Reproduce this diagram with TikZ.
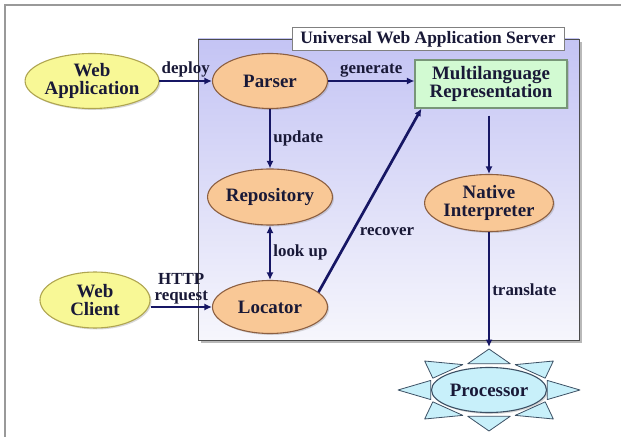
\documentclass[tikz,border=0pt]{standalone}
\usepackage{fontspec}
\setmainfont{Liberation Serif}
\newfontfamily\tnr{Liberation Serif}
\usetikzlibrary{arrows.meta, positioning, calc, shapes.geometric, shadows}
\definecolor{navy}{RGB}{22,22,100}
\definecolor{ink}{RGB}{25,25,55}
\definecolor{peach}{RGB}{249,200,150}
\definecolor{brn}{RGB}{140,95,65}
\definecolor{lemon}{RGB}{248,248,150}
\definecolor{olive}{RGB}{175,165,80}
\definecolor{mint}{RGB}{210,250,210}
\definecolor{sage}{RGB}{120,150,120}
\definecolor{sky}{RGB}{200,240,250}
\definecolor{slate}{RGB}{60,80,100}
\definecolor{srvtop}{RGB}{196,196,244}
\definecolor{srvbot}{RGB}{246,246,252}
\tikzset{
    comp/.style={ellipse, draw=brn, line width=1.1pt, fill=peach, minimum width=115bp, minimum height=55bp, inner sep=0pt,
        font=\tnr\fontsize{19}{18.5}\selectfont\bfseries, text=ink, align=center,
        drop shadow={shadow xshift=1.5bp, shadow yshift=-1.5bp, opacity=.3}},
    ext/.style={comp, draw=olive, fill=lemon},
    repr/.style={comp, rectangle, draw=sage, fill=mint, minimum width=152bp, minimum height=48bp},
    cpu/.style={comp, draw=slate, fill=sky, minimum width=115bp, minimum height=45bp},
    spike/.style={draw=slate, line width=.8pt, fill=sky, line join=round},
    trans/.style={->, >={Latex[length=7.5bp, width=7bp]}, line width=2.7bp, navy},
    lab/.style={font=\tnr\fontsize{17}{16}\selectfont\bfseries, text=ink, align=center, inner sep=2bp}
}
\begin{document}
\begin{tikzpicture}[x=1bp, y=-1bp]
    \fill[white] (0,0) rectangle (621,437);
    \useasboundingbox (0,0) rectangle (621,437);
    \draw[gray!80, line width=1.5bp] (5,437) -- (5,5) -- (621,5);

    \node (server) [rectangle, draw=gray!60!black, line width=.8pt, top color=srvtop, bottom color=srvbot,
        minimum width=381bp, minimum height=301bp, inner sep=0pt,
        drop shadow={shadow xshift=3bp, shadow yshift=-3bp, opacity=.55}] at (388.5,189.5) {};
    \node (title) [rectangle, draw=gray, fill=white, line width=.8pt, minimum width=272bp, minimum height=23bp, inner sep=0pt,
        font=\tnr\fontsize{17.5}{18}\selectfont\bfseries, text=ink] at (428,39) {Universal Web Application Server};

    \node (webapp) [ext, minimum width=117bp] at (92,81) {Web\\Application};
    \node (parser) [comp] at (270,81) {Parser};
    \node (multi) [repr] at (491,84) {Multilanguage\\Representation};
    \node (repository) [comp, minimum height=56bp] at (270,197) {Repository};
    \node (native) [comp, minimum width=117bp, minimum height=57bp] at (489,203) {Native\\Interpreter};
    \node (webclient) [ext, minimum width=110bp, minimum height=56bp] at (95,300) {Web\\Client};
    \node (locator) [comp, minimum height=53bp] at (270,307) {Locator};
    \node (processor) [cpu] at (489,390) {Processor};
    \coordinate (proctip) at (489,347);

    \foreach \a in {0,45,...,315}
        \draw[spike] ($(processor)+({91*cos(\a)},{41*sin(\a)})$) -- ($(processor)+({62*cos(\a-20)},{28*sin(\a-20)})$)
            -- ($(processor)+({62*cos(\a+20)},{28*sin(\a+20)})$) -- cycle;

    \draw[trans] (webapp.east) -- node[lab, above] {deploy} (parser.west);
    \draw[trans] (parser.east) -- node[lab, above] {generate} (multi.west |- parser.east);
    \draw[trans] (parser) -- node[lab, right] {update} (repository);
    \draw[trans, <->] (repository) -- node[lab, right] {look up} (locator);
    \draw[trans] (webclient.east |- locator.west) -- node[lab, above] {HTTP\\request} (locator.west);
    \draw[trans] (locator.17) -- node[lab, pos=.33, right=4bp] {recover} ([xshift=7bp]multi.south west);
    \draw[trans, shorten <=7bp] (multi.south -| native) -- (native.north);
    \draw[trans] (native.south) -- node[lab, right] {translate} (proctip);
\end{tikzpicture}
\end{document}
